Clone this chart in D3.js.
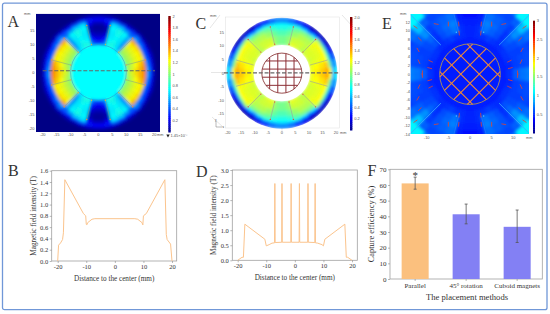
<!DOCTYPE html>
<html>
<head>
<meta charset="utf-8">
<script src="https://cdn.jsdelivr.net/npm/d3@7"></script>
<style>
html, body { margin: 0; padding: 0; background: #fff; }
svg { display: block; }
text { font-family: "Liberation Serif", serif; fill: #333; }
.tiny text, text.tiny { font-family: "Liberation Sans", sans-serif; fill: #555; }
</style>
</head>
<body>
<script>
/* Data */

// polar field tables: one quadrant, rows = radius bands, columns = angle bands
var angleBands = [0, 7, 15, 22, 30, 38, 45, 52, 59, 67, 76, 83, 90];

var radiiA = [10, 11.5, 13, 14.5, 16, 17.2, 18.5, 19.5, 20.5];
var fieldA = [
	[1.10, 1.05, 1.05, 1.05, 1.05, 1.05, .60, .72, .80, .80, .45, .35],
	[1.20, 1.15, 1.12, 1.12, 1.12, 1.12, .55, .70, .78, .75, .30, .22],
	[1.30, 1.25, 1.20, 1.20, 1.20, 1.20, .55, .70, .75, .72, .18, .12],
	[1.40, 1.35, 1.25, 1.25, 1.27, 1.28, .58, .72, .78, .72, .10, .06],
	[1.50, 1.45, 1.30, 1.32, 1.35, 1.42, .60, .75, .80, .75, .10, .05],
	[.55, .50, .45, .45, .50, .55, .45, .55, .65, .70, .22, .12],
	[.35, .32, .30, .30, .35, .42, .35, .30, .40, .45, .30, .25],
	[.10, .10, .12, .10, .10, .12, .10, .10, .10, .15, .15, .15]
];

var radiiC = [10.4, 12, 14, 16, 17.5, 18.5, 19.5, 20.5];
var fieldC = [
	[1.22, 1.22, 1.18, 1.15, 1.18, 1.15, 1.10, 1.15, 1.18, 1.20, 1.02, .98],
	[1.28, 1.25, 1.20, 1.18, 1.18, 1.18, 1.12, 1.15, 1.15, 1.15, 1.02, .98],
	[1.35, 1.30, 1.22, 1.20, 1.20, 1.22, 1.10, 1.10, 1.10, 1.05, .95, .90],
	[1.42, 1.36, 1.25, 1.25, 1.25, 1.22, 1.0, 1.0, 1.0, .95, .85, .80],
	[1.25, 1.0, .90, .90, .95, 1.05, .70, .60, .70, .80, .75, .75],
	[.60, .55, .45, .35, .30, .30, .30, .25, .35, .45, .50, .55],
	[.70, .55, .40, .20, .10, .10, .10, .10, .20, .30, .45, .50]
];

var radiiE = [7, 8.5, 10, 11.5, 13, 15, 17, 20];
var fieldE = [
	[.46, .46, .46, .46, .46, .46, .46, .46, .46, .46, .46, .46],
	[.52, .48, .50, .52, .52, .50, .50, .52, .55, .52, .50, .48],
	[.65, .55, .55, .55, .58, .62, .50, .60, .65, .72, .50, .48],
	[.72, .58, .58, .55, .60, .68, .52, .62, .68, .75, .48, .45],
	[.75, .60, .60, .58, .65, .80, .55, .62, .65, .70, .45, .42],
	[.60, .55, .55, .55, .70, .95, .65, .58, .60, .60, .42, .40],
	[.55, .55, .55, .60, .75, 1.10, 1.10, .75, .60, .55, .45, .42]
];

// magnet boundary angles (deg)
var spokesA = [15, 45, 76];
var spokesC = [16, 45, 76];

// matrix rods, mm from centre
var rods = [-4.5, -1.5, 1.5, 4.5];

// red arrows in E, one quadrant: x, y in mm and direction in deg
var arrowX = [11.8, 12.0, 11.6, 9.1, 9.3, 12.6, 7.8, 2.6, 5.0, 2.5, 11.0];
var arrowY = [2.9, 5.6, 8.1, 3.0, 1.4, 10.9, 11.6, 11.6, 11.6, 9.5, .3];
var arrowDir = [65, 60, 45, 25, 15, 35, 10, 85, 90, 85, 95];

// colorbars
var barTicksA = [0.2, 0.4, 0.6, 0.8, 1, 1.2, 1.4, 1.6, 1.8, 2];
var barTicksC = [0.2, 0.4, 0.6, 0.8, 1, 1.2, 1.4, 1.6, 1.8, 2];
var barTicksE = [0.5, 1, 1.5, 2, 2.5, 3];

// line profiles
var profileBx = [-20, -19.7, -19, -18.3, -18, -17.5, -11, -10.2, -10, -9.8, -9.5, -8, -7, 7, 8, 9.5, 9.8, 10, 10.2, 11, 17.5, 18, 18.3, 19.5, 20];
var profileBy = [0, .28, .32, .38, .5, 1.44, .84, .80, .65, .64, .68, .74, .75, .75, .74, .68, .64, .80, .81, .84, 1.44, .47, .38, .30, 0];

var profileDx = [-20, -18.5, -18, -17.5, -10.5, -10, -9, -8, -7.1, -7, -6.9, -4.6, -4.5, -4.4, -1.4, -1.3, -1.2, 1.5, 1.6, 1.7, 4.5, 4.6, 4.7, 7, 7.1, 7.2, 8, 9.5, 10, 10.5, 17.5, 18, 18.5, 20];
var profileDy = [0, .1, .1, 1.2, .7, .48, .52, .57, .58, 2.55, .59, .6, 2.55, .6, .6, 2.55, .6, .6, 2.55, .6, .6, 2.55, .6, .59, 2.55, .58, .57, .52, .48, .7, 1.2, .1, .1, 0];

// capture efficiency bars
var methods = ["Parallel", "45°  rotation", "Cuboid magnets"];
var efficiency = [61, 41.3, 33.3];
var errLow = [57.3, 35.2, 23.3];
var errHigh = [65, 47.8, 44];
var barColors = ["#fbc07e", "#8380f4", "#8380f4"];


/* Functions */

function jet(t) {
	var c = function(v) { return Math.round(255 * Math.max(0, Math.min(1, v))); };
	return "rgb(" + c(1.5 - Math.abs(4 * t - 3)) + "," + c(1.5 - Math.abs(4 * t - 2)) + "," + c(1.5 - Math.abs(4 * t - 1)) + ")";
}

function rad(d) { return d * Math.PI / 180; }

// draw a mirrored polar table with d3.arc
function drawField(g, x, table, radii, color) {
	var cx = x(0);
	var arc = d3.arc();
	var cells = [];
	table.forEach(function(row, i) {
		row.forEach(function(v, j) {
			[0, 1, 2, 3].forEach(function(q) {
				cells.push({v: v, r0: radii[i], r1: radii[i + 1], a0: angleBands[j], a1: angleBands[j + 1], q: q});
			});
		});
	});
	g.selectAll("path.cell")
		.data(cells)
		.enter().append("path")
		.attr("class", "cell")
		.attr("fill", function(d) { return color(d.v); })
		.attr("stroke", function(d) { return color(d.v); })
		.attr("stroke-width", 0.4)
		.attr("d", function(d) {
			// d3 angles run clockwise from 12 o'clock
			var a0 = d.a0, a1 = d.a1;
			var s = [90 - a0, 90 + a0, 270 - a0, 270 + a0][d.q];
			var e = [90 - a1, 90 + a1, 270 - a1, 270 + a1][d.q];
			return arc({
				innerRadius: x(d.r0) - cx,
				outerRadius: x(d.r1) - cx,
				startAngle: rad(s),
				endAngle: rad(e)
			});
		});
}

function drawSpokes(g, x, y, angles, r0, r1, color, width) {
	angles.forEach(function(a) {
		[[1, 1], [-1, 1], [1, -1], [-1, -1]].forEach(function(s) {
			g.append("line")
				.attr("x1", x(s[0] * r0 * Math.cos(rad(a))))
				.attr("y1", y(s[1] * r0 * Math.sin(rad(a))))
				.attr("x2", x(s[0] * r1 * Math.cos(rad(a))))
				.attr("y2", y(s[1] * r1 * Math.sin(rad(a))))
				.attr("stroke", color)
				.attr("stroke-width", width);
		});
	});
}

function drawHotspots(g, x, y, angles, radius, color) {
	angles.forEach(function(a) {
		[[1, 1], [-1, 1], [1, -1], [-1, -1]].forEach(function(s) {
			g.append("circle")
				.attr("cx", x(s[0] * radius * Math.cos(rad(a))))
				.attr("cy", y(s[1] * radius * Math.sin(rad(a))))
				.attr("r", 0.7)
				.attr("fill", color);
		});
	});
}

function drawColorbar(left, top, bottom, width, domain, ticks, tickFmt) {
	var barY = d3.scaleLinear().domain(domain).range([bottom, top]);
	var steps = d3.range(0, 60);
	var g = svg.append("g");
	g.selectAll("rect")
		.data(steps)
		.enter().append("rect")
		.attr("x", left)
		.attr("width", width)
		.attr("y", function(d) { return top + (bottom - top) * d / 60; })
		.attr("height", (bottom - top) / 60 + 0.5)
		.attr("fill", function(d) { return jet(1 - d / 60); });
	g.selectAll("text")
		.data(ticks)
		.enter().append("text")
		.attr("class", "tiny")
		.attr("x", left + width + 1.8)
		.attr("y", function(d) { return barY(d) + 1.5; })
		.attr("font-size", 4)
		.text(tickFmt);
}

function tinyAxes(g, x, y, xTicks, yTicks, xLabelY, yLabelX, mmX, mmY, xMm) {
	g.selectAll("text.xt")
		.data(xTicks)
		.enter().append("text")
		.attr("class", "xt tiny")
		.attr("x", function(d) { return x(d); })
		.attr("y", xLabelY)
		.attr("text-anchor", "middle")
		.attr("font-size", 4)
		.text(String);
	g.selectAll("text.yt")
		.data(yTicks)
		.enter().append("text")
		.attr("class", "yt tiny")
		.attr("x", yLabelX)
		.attr("y", function(d) { return y(d) + 1.4; })
		.attr("text-anchor", "end")
		.attr("font-size", 4)
		.text(String);
	g.append("text").attr("class", "tiny").attr("x", mmX).attr("y", mmY).attr("font-size", 3.8).text("mm");
	g.append("text").attr("class", "tiny").attr("x", xMm).attr("y", xLabelY).attr("font-size", 3.8).text("mm");
}

function drawProfilePlot(box, xs, ys, yMax, yStep, yFmt, title) {
	var x = d3.scaleLinear().domain([-20, 20]).range([box.x20, box.xp20]);
	var y = d3.scaleLinear().domain([0, yMax]).range([box.bottom, box.top]);
	var g = svg.append("g");

	g.append("rect")
		.attr("x", box.left).attr("y", box.top)
		.attr("width", box.right - box.left).attr("height", box.bottom - box.top)
		.attr("fill", "#fff").attr("stroke", "#a0a0a0").attr("stroke-width", 0.8);

	var xAxis = d3.axisBottom(x).tickValues([-20, -10, 0, 10, 20]).tickSize(2).tickPadding(1.5).tickFormat(String);
	var yAxis = d3.axisLeft(y).tickValues(d3.range(0, yMax + 0.001, yStep)).tickSize(2).tickPadding(1.5).tickFormat(d3.format(yFmt));
	[g.append("g").attr("transform", "translate(0," + box.bottom + ")").call(xAxis),
	 g.append("g").attr("transform", "translate(" + box.left + ",0)").call(yAxis)].forEach(function(a) {
		a.select(".domain").remove();
		a.selectAll("line").attr("stroke", "#888").attr("stroke-width", 0.6);
		a.selectAll("text").attr("font-size", 6.5).attr("font-family", "Liberation Serif").attr("fill", "#333");
	});

	var line = d3.line()
		.x(function(d) { return x(d[0]); })
		.y(function(d) { return y(d[1]); });
	g.append("path")
		.datum(d3.zip(xs, ys))
		.attr("d", line)
		.attr("fill", "none")
		.attr("stroke", "#fbc48d")
		.attr("stroke-width", 1);

	g.append("text")
		.attr("x", (box.left + box.right) / 2)
		.attr("y", box.bottom + 20)
		.attr("text-anchor", "middle")
		.attr("font-size", 7.2)
		.text("Distance to the center (mm)");
	g.append("text")
		.attr("transform", "translate(" + (box.left - 16) + "," + ((box.top + box.bottom) / 2) + ") rotate(-90)")
		.attr("text-anchor", "middle")
		.attr("font-size", 7.2)
		.text(title);
}


/* Initialize canvas and make things go */

var width = 550;
var height = 314;

var svg = d3.select("body").append("svg")
	.attr("width", width)
	.attr("height", height);

var defs = svg.append("defs");
defs.append("filter").attr("id", "soft")
	.attr("x", "-5%").attr("y", "-5%").attr("width", "110%").attr("height", "110%")
	.append("feGaussianBlur").attr("stdDeviation", 1.5);

// outer frame
svg.append("rect")
	.attr("x", 2.5).attr("y", 3.2)
	.attr("width", 544.5).attr("height", 306.5)
	.attr("rx", 2)
	.attr("fill", "none")
	.attr("stroke", "#7097d8")
	.attr("stroke-width", 1.3);

// panel letters
var letters = [["A", 7.5, 27], ["B", 8, 176], ["C", 195.5, 29], ["D", 196, 176.5], ["E", 382, 29], ["F", 367.5, 176]];
svg.selectAll("text.letter")
	.data(letters)
	.enter().append("text")
	.attr("class", "letter")
	.attr("x", function(d) { return d[1]; })
	.attr("y", function(d) { return d[2]; })
	.attr("font-size", 16)
	.attr("fill", "#111")
	.text(function(d) { return d[0]; });


/* Panel A */
(function() {
	var x = d3.scaleLinear().domain([-20, 20]).range([42.7, 154.2]);
	var y = d3.scaleLinear().domain([-20, 20]).range([128.2, 16.7]);
	var color = d3.scaleSequential(jet).domain([0, 2]);
	var g = svg.append("g");

	defs.append("clipPath").attr("id", "clipA").append("rect")
		.attr("x", 36).attr("y", 13.7).attr("width", 124).attr("height", 118.3);

	var plot = g.append("g").attr("clip-path", "url(#clipA)");
	plot.append("rect").attr("x", 36).attr("y", 13.7).attr("width", 124).attr("height", 118.3).attr("fill", color(0.01));

	var soft = plot.append("g").attr("filter", "url(#soft)");
	var center = soft.append("g").attr("transform", "translate(" + x(0) + "," + y(0) + ")");
	center.append("circle").attr("r", x(10.2) - x(0)).attr("fill", color(0.75));
	drawField(center, x, fieldA, radiiA, color);

	var lines = plot.append("g");
	drawSpokes(lines, x, y, spokesA, 10.2, 17.4, "#7f9c8e", 0.5);
	lines.append("circle")
		.attr("cx", x(0)).attr("cy", y(0)).attr("r", x(10) - x(0))
		.attr("fill", "none").attr("stroke", "#2a8ccc").attr("stroke-width", 0.5);
	drawHotspots(lines, x, y, spokesA, 17.4, "#f09030");
	drawHotspots(lines, x, y, spokesA, 10.3, "#e0b040");

	g.append("line")
		.attr("x1", x(-20)).attr("x2", 155)
		.attr("y1", y(0.6)).attr("y2", y(0.6))
		.attr("stroke", "#666").attr("stroke-width", 1.1).attr("stroke-dasharray", "4,1.8");

	tinyAxes(g, x, y, d3.range(-20, 21, 5), d3.range(-20, 16, 5), 136, 34.5, 24, 14.5, 157);
	drawColorbar(168.3, 16, 132, 2.4, [0, 2], barTicksA, String);

	svg.append("path")
		.attr("d", d3.symbol().type(d3.symbolTriangle).size(5))
		.attr("transform", "translate(168,135.5) rotate(180)")
		.attr("fill", "#222");
	svg.append("text").attr("class", "tiny").attr("x", 170.5).attr("y", 137).attr("font-size", 4).text("1.45×10⁻⁷");
})();


/* Panel C */
(function() {
	var x = d3.scaleLinear().domain([-20, 20]).range([227.7, 336]);
	var y = d3.scaleLinear().domain([-20, 20]).range([127.3, 19]);
	var color = d3.scaleSequential(jet).domain([0, 2]);
	var g = svg.append("g");

	// box and perspective lines
	g.append("rect").attr("x", 225.7).attr("y", 17).attr("width", 114).attr("height", 111)
		.attr("fill", "none").attr("stroke", "#ddd").attr("stroke-width", 0.5);
	var guides = [[210, 28, 220, 15], [342, 15, 353, 27], [212, 117, 224, 128], [211, 72.5, 226, 72.5], [282, 128, 282, 132]];
	guides.forEach(function(l) {
		g.append("line").attr("x1", l[0]).attr("y1", l[1]).attr("x2", l[2]).attr("y2", l[3])
			.attr("stroke", "#ccc").attr("stroke-width", 0.5);
	});
	// small orientation triad
	var triad = [[216, 127, 216, 121], [216, 127, 222, 127]];
	triad.forEach(function(l) {
		g.append("line").attr("x1", l[0]).attr("y1", l[1]).attr("x2", l[2]).attr("y2", l[3])
			.attr("stroke", "#777").attr("stroke-width", 0.5);
	});
	g.append("text").attr("class", "tiny").attr("x", 215).attr("y", 121).attr("font-size", 3).text("y");
	g.append("text").attr("class", "tiny").attr("x", 222.5).attr("y", 128).attr("font-size", 3).text("x");

	defs.append("clipPath").attr("id", "clipC").append("circle")
		.attr("cx", x(0)).attr("cy", y(0)).attr("r", x(20.5) - x(0));

	var plot = g.append("g").attr("clip-path", "url(#clipC)");
	var center = plot.append("g").attr("filter", "url(#soft)")
		.attr("transform", "translate(" + x(0) + "," + y(0) + ")");
	drawField(center, x, fieldC, radiiC, color);

	// white bore goes on top of the blur so its edge stays clean
	plot.append("circle").attr("cx", x(0)).attr("cy", y(0)).attr("r", x(10.4) - x(0)).attr("fill", "#fff");

	var lines = plot.append("g");
	drawSpokes(lines, x, y, spokesC, 10.8, 17.6, "#9aa0a0", 0.6);
	drawHotspots(lines, x, y, spokesC.slice(1), 17.6, "#e05030");
	drawHotspots(lines, x, y, spokesC.slice(1), 11, "#e07030");

	// matrix
	var m = g.append("g");
	m.append("circle").attr("cx", x(0)).attr("cy", y(0)).attr("r", x(7.4) - x(0))
		.attr("fill", "#fff").attr("stroke", "#8c3a3a").attr("stroke-width", 0.9);
	rods.forEach(function(p) {
		var half = Math.sqrt(7.4 * 7.4 - p * p);
		m.append("line").attr("x1", x(p)).attr("x2", x(p)).attr("y1", y(-half)).attr("y2", y(half))
			.attr("stroke", "#8c2f35").attr("stroke-width", 1);
		m.append("line").attr("x1", x(-half)).attr("x2", x(half)).attr("y1", y(p)).attr("y2", y(p))
			.attr("stroke", "#8c2f35").attr("stroke-width", 1);
	});

	g.append("line")
		.attr("x1", 224).attr("x2", 340)
		.attr("y1", y(0.1)).attr("y2", y(0.1))
		.attr("stroke", "#666").attr("stroke-width", 1.1).attr("stroke-dasharray", "4,1.8");

	tinyAxes(g, x, y, d3.range(-20, 21, 5), d3.range(-15, 16, 5), 134, 224, 210, 16.5, 340);
	drawColorbar(350, 17, 130, 2.4, [0, 2], barTicksC, function(d) { return d3.format(".1f")(d); });
})();


/* Panel E */
(function() {
	var x = d3.scaleLinear().domain([-10, 10]).range([426.7, 513.3]);
	var y = d3.scaleLinear().domain([-12, 12]).range([126, 22.3]);
	var color = d3.scaleSequential(jet).domain([0, 3]);
	var g = svg.append("g");

	defs.append("clipPath").attr("id", "clipE").append("rect")
		.attr("x", 410.7).attr("y", 14).attr("width", 118.3).attr("height", 120);

	var plot = g.append("g").attr("clip-path", "url(#clipE)");
	plot.append("rect").attr("x", 410.7).attr("y", 14).attr("width", 118.3).attr("height", 120).attr("fill", color(0.55));

	var center = plot.append("g").attr("filter", "url(#soft)")
		.attr("transform", "translate(" + x(0) + "," + y(0) + ")");
	center.append("circle").attr("r", x(7) - x(0)).attr("fill", color(0.45));
	drawField(center, x, fieldE, radiiE, color);

	var lines = plot.append("g");
	drawSpokes(lines, x, y, [45], 9.5, 20, "#38a8ff", 0.8);
	drawSpokes(lines, x, y, [75], 10, 17, "#2c8cff", 0.5);
	drawHotspots(lines, x, y, [72], 10.2, "#50c8f8");

	// rotated matrix
	var m = plot.append("g");
	m.append("circle").attr("cx", x(0)).attr("cy", y(0)).attr("r", x(7) - x(0))
		.attr("fill", "none").attr("stroke", "#c8a040").attr("stroke-width", 0.8);
	var s = Math.SQRT1_2;
	rods.forEach(function(p) {
		var half = Math.sqrt(7 * 7 - p * p);
		// rods at +45 and -45 degrees
		m.append("line")
			.attr("x1", x((p - half) * s)).attr("y1", y((p + half) * s))
			.attr("x2", x((p + half) * s)).attr("y2", y((p - half) * s))
			.attr("stroke", "#f08a35").attr("stroke-width", 1.1);
		m.append("line")
			.attr("x1", x((p - half) * s)).attr("y1", y(-(p + half) * s))
			.attr("x2", x((p + half) * s)).attr("y2", y(-(p - half) * s))
			.attr("stroke", "#f08a35").attr("stroke-width", 1.1);
	});

	// field arrows, mirrored into the four quadrants
	var a = plot.append("g");
	arrowX.forEach(function(ax, i) {
		[[1, 1], [-1, 1], [1, -1], [-1, -1]].forEach(function(q) {
			var dx = q[0] * Math.cos(rad(arrowDir[i])) * 0.55;
			var dy = q[1] * Math.sin(rad(arrowDir[i])) * 0.55;
			a.append("line")
				.attr("x1", x(q[0] * ax - dx)).attr("y1", y(q[1] * arrowY[i] - dy))
				.attr("x2", x(q[0] * ax + dx)).attr("y2", y(q[1] * arrowY[i] + dy))
				.attr("stroke", "#e8402c").attr("stroke-width", 0.8);
		});
	});

	tinyAxes(g, x, y, [-10, -5, 0, 5, 10], d3.range(-14, 13, 2), 139, 410, 400, 15, 526);
	drawColorbar(533, 20.7, 133, 2, [0, 3], barTicksE, String);
})();


/* Panels B and D */
drawProfilePlot({left: 51.7, right: 176.7, top: 170.7, bottom: 261, x20: 57.7, xp20: 172},
	profileBx, profileBy, 1.6, 0.2, ".1f", "Magnetic field intensity (T)");

drawProfilePlot({left: 232.3, right: 357.3, top: 170, bottom: 260.3, x20: 237.7, xp20: 352},
	profileDx, profileDy, 3, 0.5, ".1f", "Magnetic field intensity (T)");


/* Panel F */
(function() {
	var x = d3.scaleBand().domain(methods).range([390, 542.3]).paddingInner(0.47).paddingOuter(0.228);
	var y = d3.scaleLinear().domain([0, 70]).range([279, 169.3]);
	var g = svg.append("g");

	g.append("rect").attr("x", 390).attr("y", 169.3).attr("width", 152.3).attr("height", 109.7)
		.attr("fill", "#fff").attr("stroke", "#a0a0a0").attr("stroke-width", 0.8);

	g.selectAll("rect.bar")
		.data(efficiency)
		.enter().append("rect")
		.attr("class", "bar")
		.attr("x", function(d, i) { return x(methods[i]); })
		.attr("width", x.bandwidth())
		.attr("y", function(d) { return y(d); })
		.attr("height", function(d) { return y(0) - y(d); })
		.attr("fill", function(d, i) { return barColors[i]; });

	efficiency.forEach(function(d, i) {
		var cx = x(methods[i]) + x.bandwidth() / 2;
		g.append("line").attr("x1", cx).attr("x2", cx).attr("y1", y(errLow[i])).attr("y2", y(errHigh[i]))
			.attr("stroke", "#555").attr("stroke-width", 0.8);
		[errLow[i], errHigh[i]].forEach(function(v) {
			g.append("line").attr("x1", cx - 1.5).attr("x2", cx + 1.5).attr("y1", y(v)).attr("y2", y(v))
				.attr("stroke", "#555").attr("stroke-width", 0.8);
		});
	});

	g.append("text")
		.attr("x", x(methods[0]) + x.bandwidth() / 2)
		.attr("y", y(efficiency[0]) + -4)
		.attr("text-anchor", "middle")
		.attr("font-size", 11)
		.text("*");

	var xAxis = d3.axisBottom(x).tickSize(2).tickPadding(2.5);
	var yAxis = d3.axisLeft(y).tickValues(d3.range(0, 71, 10)).tickSize(2).tickPadding(1.5);
	[g.append("g").attr("transform", "translate(0,279)").call(xAxis),
	 g.append("g").attr("transform", "translate(390,0)").call(yAxis)].forEach(function(a) {
		a.select(".domain").remove();
		a.selectAll("line").attr("stroke", "#888").attr("stroke-width", 0.6);
		a.selectAll("text").attr("font-family", "Liberation Serif").attr("fill", "#333");
	});
	g.selectAll("g.tick text").attr("font-size", 7);

	g.append("text").attr("x", 467).attr("y", 300).attr("text-anchor", "middle").attr("font-size", 8.6).text("The placement methods");
	g.append("text")
		.attr("transform", "translate(373.5,224) rotate(-90)")
		.attr("text-anchor", "middle")
		.attr("font-size", 8.4)
		.text("Capture efficiency (%)");
})();
</script>
</body>
</html>
